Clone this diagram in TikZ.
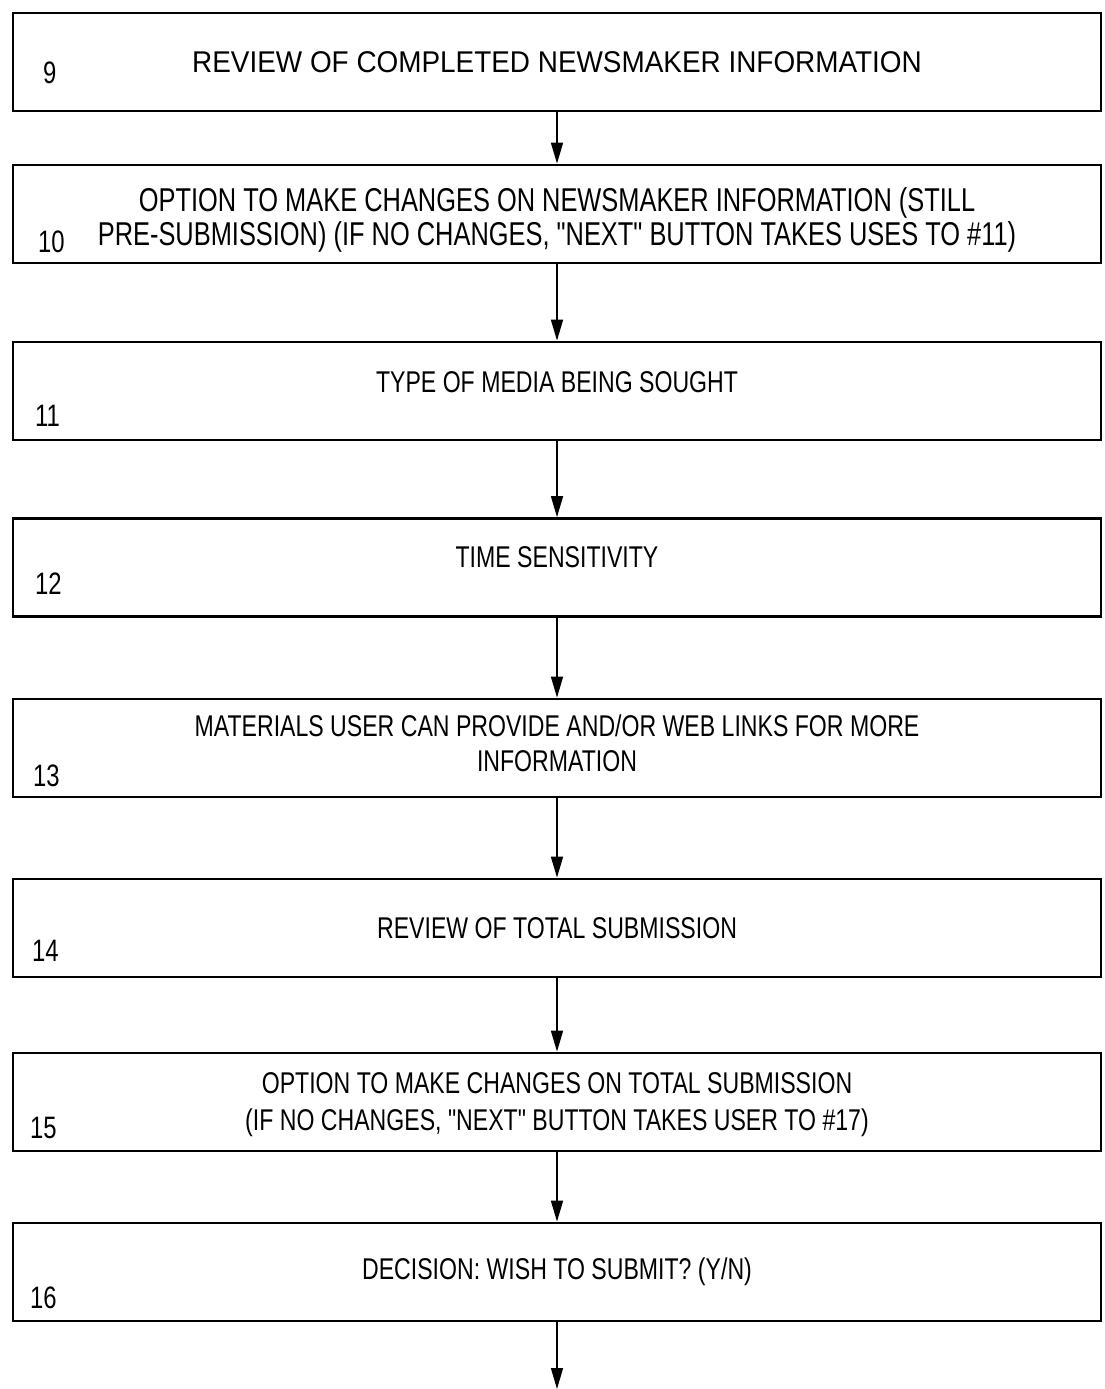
\documentclass[tikz,border=0pt]{standalone}
\usepackage{fontspec}
\setmainfont{Liberation Sans}
\newfontfamily\plainfont[FakeStretch=0.93]{Liberation Sans}
\newfontfamily\condfont[FakeStretch=0.77]{Liberation Sans}
\usetikzlibrary{arrows.meta}
\newcommand{\shiftline}[2]{\raisebox{#1}[\height][\depth]{#2}}

\tikzset{
  stepbox/.style={draw, line width=2.8pt, minimum width=1088pt, minimum height=98pt,
    inner sep=0pt, align=center, font=\condfont\fontsize{30}{35}\selectfont},
  stepnum/.style={anchor=base west, inner sep=0pt, font=\condfont\fontsize{31}{35}\selectfont},
  flow/.style={line width=1.6pt, -{Triangle[length=21pt,width=12pt]}}
}

\begin{document}
\begin{tikzpicture}[x=1pt,y=1pt,yscale=-1,xscale=1]
\useasboundingbox (0,0) rectangle (1105,1389);
\node[stepbox, font=\plainfont\fontsize{30}{35}\selectfont] (review) at (557,62) {REVIEW OF COMPLETED NEWSMAKER INFORMATION};
\node[stepbox, font=\condfont\fontsize{33}{34}\selectfont] (infochanges) at (557,214) {\shiftline{-6pt}{OPTION TO MAKE CHANGES ON NEWSMAKER INFORMATION (STILL}\\\shiftline{-6pt}{PRE-SUBMISSION) (IF NO CHANGES, "NEXT" BUTTON TAKES USES TO \#11)}};
\node[stepbox] (media) at (557,391) {\shiftline{9pt}{TYPE OF MEDIA BEING SOUGHT}};
\node[stepbox] (timing) at (557,567.5) {\shiftline{10pt}{TIME SENSITIVITY}};
\node[stepbox] (materials) at (557,748) {\shiftline{5pt}{MATERIALS USER CAN PROVIDE AND/OR WEB LINKS FOR MORE}\\\shiftline{5pt}{INFORMATION}};
\node[stepbox] (totalreview) at (557,928) {REVIEW OF TOTAL SUBMISSION};
\node[stepbox, font=\condfont\fontsize{30}{37}\selectfont] (totalchanges) at (557,1102) {\shiftline{-3pt}{OPTION TO MAKE CHANGES ON TOTAL SUBMISSION}\\\shiftline{-3pt}{(IF NO CHANGES, "NEXT" BUTTON TAKES USER TO \#17)}};
\node[stepbox] (decision) at (557,1272) {DECISION: WISH TO SUBMIT? (Y/N)};
\coordinate (next) at (557,1389);

\node[stepnum] (n9) at (43,84) {9};
\node[stepnum] (n10) at (38,252) {10};
\node[stepnum] (n11) at (35,426) {11};
\node[stepnum] (n12) at (35,594) {12};
\node[stepnum] (n13) at (33,786) {13};
\node[stepnum] (n14) at (32,961) {14};
\node[stepnum] (n15) at (30,1138) {15};
\node[stepnum] (n16) at (30,1308) {16};

\draw[flow] (review) -- (infochanges);
\draw[flow] (infochanges) -- (media);
\draw[flow] (media) -- (timing);
\draw[flow] (timing) -- (materials);
\draw[flow] (materials) -- (totalreview);
\draw[flow] (totalreview) -- (totalchanges);
\draw[flow] (totalchanges) -- (decision);
\draw[flow] (decision) -- (next);
\end{tikzpicture}
\end{document}
